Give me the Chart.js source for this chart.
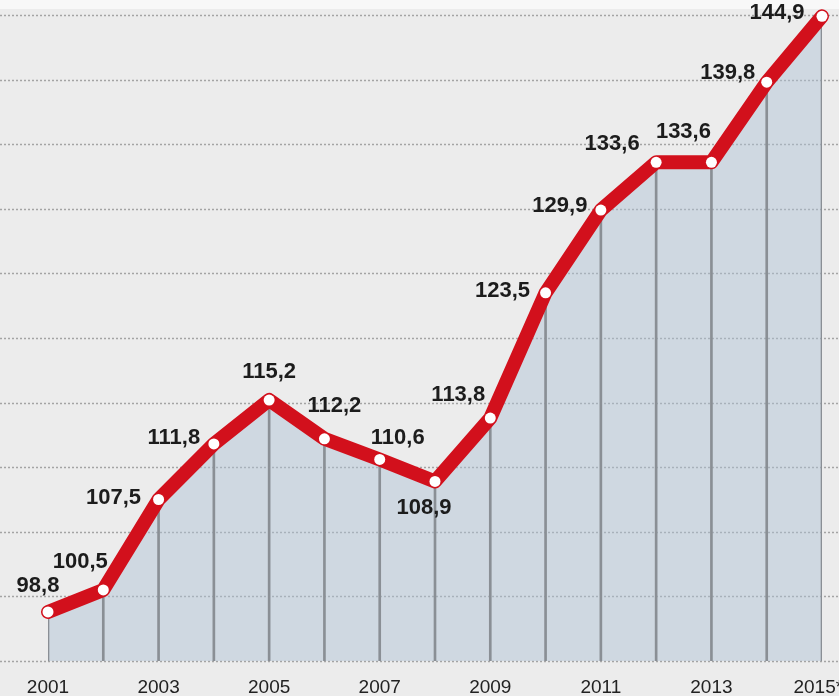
<!DOCTYPE html>
<html>
<head>
<meta charset="utf-8">
<script src="https://cdn.jsdelivr.net/npm/chart.js@4.4.1/dist/chart.umd.min.js"></script>
<style>
  html, body { margin: 0; padding: 0; background: #ececec; }
  #wrap { width: 839px; height: 696px; position: relative; }
  canvas { display: block; }
</style>
</head>
<body>
<div id="wrap"><canvas id="c" width="839" height="696"></canvas></div>
<script>
// ---- data ----
const years = ['2001','2002','2003','2004','2005','2006','2007','2008','2009','2010','2011','2012','2013','2014','2015**'];
const values = [98.8, 100.5, 107.5, 111.8, 115.2, 112.2, 110.6, 108.9, 113.8, 123.5, 129.9, 133.6, 133.6, 139.8, 144.9];
const axisMin = 95;
const axisMax = 145;
const axisStep = 5;

// ---- label placement (styling, relative to each point) ----
const labelOffsets = [[-10,-26],[-23,-28],[-45,-2],[-40,-6],[0,-28],[10,-33],[18,-22],[-11,27],[-32,-23],[-43,-2],[-41,-4],[-44,-18],[-28,-30],[-39,-9],[-45,-3]];

const fmt = v => v.toFixed(1).replace('.', ',');

const bgPlugin = {
  id: 'bgGrid',
  beforeDraw(chart) {
    const ctx = chart.ctx;
    ctx.save();
    ctx.fillStyle = '#ececec';
    ctx.fillRect(0, 0, chart.width, chart.height);
    ctx.fillStyle = '#f8f8f8';
    ctx.fillRect(0, 0, chart.width, 9);
    const ys = chart.scales.y;
    ctx.setLineDash([2, 2]);
    ctx.strokeStyle = '#a4a4a4';
    ctx.lineWidth = 1.5;
    ys.ticks.forEach(t => {
      const y = Math.round(ys.getPixelForValue(t.value)) + 0.5;
      ctx.beginPath();
      ctx.moveTo(0, y);
      ctx.lineTo(chart.width, y);
      ctx.stroke();
    });
    ctx.restore();
  },
  afterDatasetsDraw(chart) {
    const meta = chart.getDatasetMeta(1);
    const ctx = chart.ctx;
    ctx.save();
    ctx.font = 'bold 22px "Liberation Sans", Arial, sans-serif';
    ctx.fillStyle = '#1c1c1c';
    ctx.textAlign = 'center';
    ctx.textBaseline = 'middle';
    meta.data.forEach((pt, i) => {
      const off = labelOffsets[i];
      ctx.fillText(fmt(values[i]), pt.x + off[0], pt.y + off[1]);
    });
    ctx.restore();
  }
};

new Chart(document.getElementById('c'), {
  type: 'line',
  data: {
    labels: years,
    datasets: [
      {
        type: 'bar',
        data: values,
        backgroundColor: '#8a8f95',
        barThickness: 2,
        order: 2
      },
      {
        type: 'line',
        data: values,
        borderColor: '#d2101c',
        borderWidth: 14,
        borderJoinStyle: 'round',
        borderCapStyle: 'round',
        tension: 0,
        fill: 'start',
        backgroundColor: 'rgba(172,192,212,0.45)',
        pointRadius: 5.5,
        pointBorderWidth: 0,
        pointBackgroundColor: '#ffffff',
        pointHoverRadius: 5.5,
        clip: false,
        order: 1
      }
    ]
  },
  options: {
    responsive: false,
    devicePixelRatio: 1,
    animation: false,
    events: [],
    layout: { padding: { left: 48, right: 17, top: 15, bottom: 0 } },
    plugins: {
      legend: { display: false },
      tooltip: { enabled: false },
      filler: { drawTime: 'beforeDatasetsDraw' }
    },
    scales: {
      x: {
        type: 'category',
        offset: false,
        grid: { display: false, drawTicks: false },
        border: { display: false },
        ticks: {
          autoSkip: false,
          maxRotation: 0,
          padding: 15,
          color: '#222222',
          font: { family: '"Liberation Sans", Arial, sans-serif', size: 19 },
          callback: function(val, idx) { return idx % 2 === 0 ? years[idx] : ''; }
        },
        afterFit(scale) { scale.paddingLeft = 0; scale.paddingRight = 0; scale.height = 35; }
      },
      y: {
        display: false,
        min: axisMin,
        max: axisMax,
        ticks: { stepSize: axisStep }
      }
    }
  },
  plugins: [bgPlugin]
});
</script>
</body>
</html>
